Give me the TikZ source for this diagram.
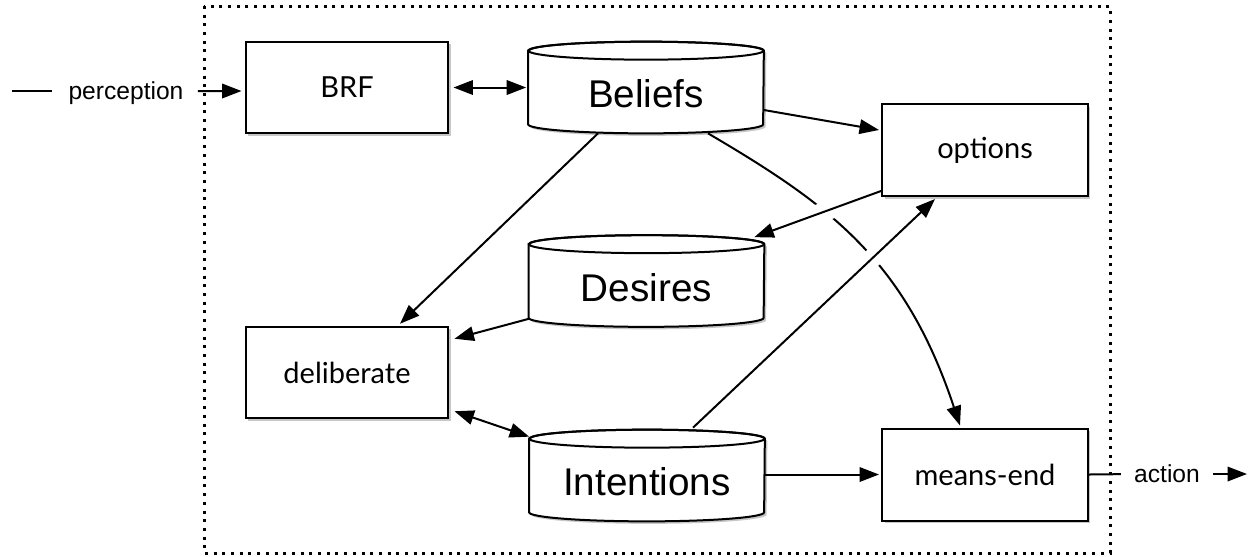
\documentclass[tikz,border=0pt]{standalone}
\usepackage{fontspec}
\setmainfont{Liberation Sans}
\newfontfamily\boxfont{Lato}
\usetikzlibrary{arrows.meta,shadows}
\newcommand\cylpath[3]{([xshift=#2,yshift=-0.18cm+#3]#1.north west) -- ([xshift=#2,yshift=0.18cm+#3]#1.south west) arc[start angle=180,end angle=360,x radius=2.35cm,y radius=0.18cm] -- ([xshift=#2,yshift=-0.18cm+#3]#1.north east) arc[start angle=0,end angle=180,x radius=2.35cm,y radius=0.18cm] -- cycle}
\newcommand\drawcyl[1]{%
  \fill[black,opacity=0.22] \cylpath{#1}{0.05cm}{-0.05cm};
  \draw[ln,fill=white] \cylpath{#1}{0cm}{0cm};
  \draw[ln] ([yshift=-0.18cm]#1.north) ellipse [x radius=2.35cm, y radius=0.18cm];
}
\begin{document}
\begin{tikzpicture}[x=0.02cm,y=0.02cm,
  ln/.style={line width=0.04cm},
  arr/.style={ln,-{Triangle[length=0.39cm,width=0.29cm]}},
  darr/.style={ln,{Triangle[length=0.39cm,width=0.29cm]}-{Triangle[length=0.39cm,width=0.29cm]}},
  proc/.style={draw, line width=0.04cm, fill=white, inner sep=0,
    minimum width=4.06cm, minimum height=1.83cm,
    font=\boxfont\fontsize{16.5}{19}\selectfont,
    drop shadow={shadow xshift=0.05cm,shadow yshift=-0.05cm,fill=black,opacity=0.22}},
  store/.style={minimum width=4.7cm, minimum height=1.82cm, inner sep=0},
  cyltext/.style={font=\fontsize{22}{25}\selectfont, inner sep=0},
  io/.style={font=\fontsize{14}{16}\selectfont, inner sep=0},
  halo/.style={draw=white, line width=0.38cm},
]
\useasboundingbox (0,0) rectangle (1250,-556);

% dotted frame
\draw[line width=0.06cm, dash pattern=on 0.06cm off 0.114cm] (204,-6) rectangle (1110,-553);

% process boxes
\node[proc] (brf) at (347,-87.5) {\raisebox{-0.05cm}{BRF}};
\node[proc, minimum width=4.12cm, minimum height=1.84cm] (options) at (985,-150) {\raisebox{-0.06cm}{options}};
\node[proc] (delib) at (347,-372.5) {deliberate};
\node[proc, minimum width=4.12cm, minimum height=1.84cm] (meansend) at (985,-474.5) {means-end};

% stores (cylinders)
\node[store] (beliefs) at (646,-87.5) {};
\node[store] (desires) at (646.5,-281) {};
\node[store] (intentions) at (647,-475.5) {};
\drawcyl{beliefs}
\drawcyl{desires}
\drawcyl{intentions}
\node[cyltext] (beliefsT) at (646,-94) {Beliefs};
\node[cyltext] (desiresT) at (646.5,-288) {Desires};
\node[cyltext] (intentionsT) at (647,-482) {Intentions};

% perception / action
\coordinate (pin) at (12,-91);
\node[io] (perc) at (126,-93) {perception};
\draw[ln, shorten >=0.32cm] (pin) -- (perc.west |- pin);
\draw[arr, shorten <=0.28cm, shorten >=0.06cm] (perc.east |- pin) -- ([yshift=-0.07cm]brf.west);

\node[io] (action) at (1167,-474) {action};
\coordinate (aout) at (1247,-474);
\draw[ln, shorten >=0.26cm] (meansend.east) -- (action.west);
\draw[arr, shorten <=0.26cm] (action.east) -- (aout);

% connectors
\draw[darr, shorten <=0.08cm, shorten >=0.04cm] (brf.east) -- (beliefs.west);
\draw[arr] ([yshift=-0.45cm]beliefs.east) -- ([xshift=-0.04cm,yshift=0.4cm]options.west);
\draw[arr] ([xshift=-0.96cm]beliefs.south) -- ([xshift=1.06cm,yshift=0.04cm]delib.north);
\draw[arr] ([xshift=1.24cm]beliefs.south) .. controls (830,-205) and (905,-260) .. ([xshift=-0.5cm,yshift=0.04cm]meansend.north);
\draw[arr] ([yshift=0.16cm]desires.south west) -- ([xshift=0.1cm,yshift=-0.26cm]delib.north east);
\draw[darr] ([xshift=0.1cm,yshift=0.16cm]delib.south east) -- ([yshift=-0.14cm]intentions.north west);
\draw[arr, shorten >=0.04cm] ([yshift=0.02cm]intentions.east) -- (meansend.west);

% crossing lines with white halo over the curve
\draw[halo, shorten <=0.8cm, shorten >=1.18cm] ([yshift=0.12cm]options.south west) -- ([xshift=-0.2cm,yshift=-0.04cm]desires.north east);
\draw[arr] ([yshift=0.12cm]options.south west) -- ([xshift=-0.2cm,yshift=-0.04cm]desires.north east);
\draw[halo, shorten <=4.5cm, shorten >=1.18cm] ([xshift=0.92cm,yshift=0.04cm]intentions.north) -- ([xshift=-1cm,yshift=-0.04cm]options.south);
\draw[arr] ([xshift=0.92cm,yshift=0.04cm]intentions.north) -- ([xshift=-1cm,yshift=-0.04cm]options.south);
\end{tikzpicture}
\end{document}
